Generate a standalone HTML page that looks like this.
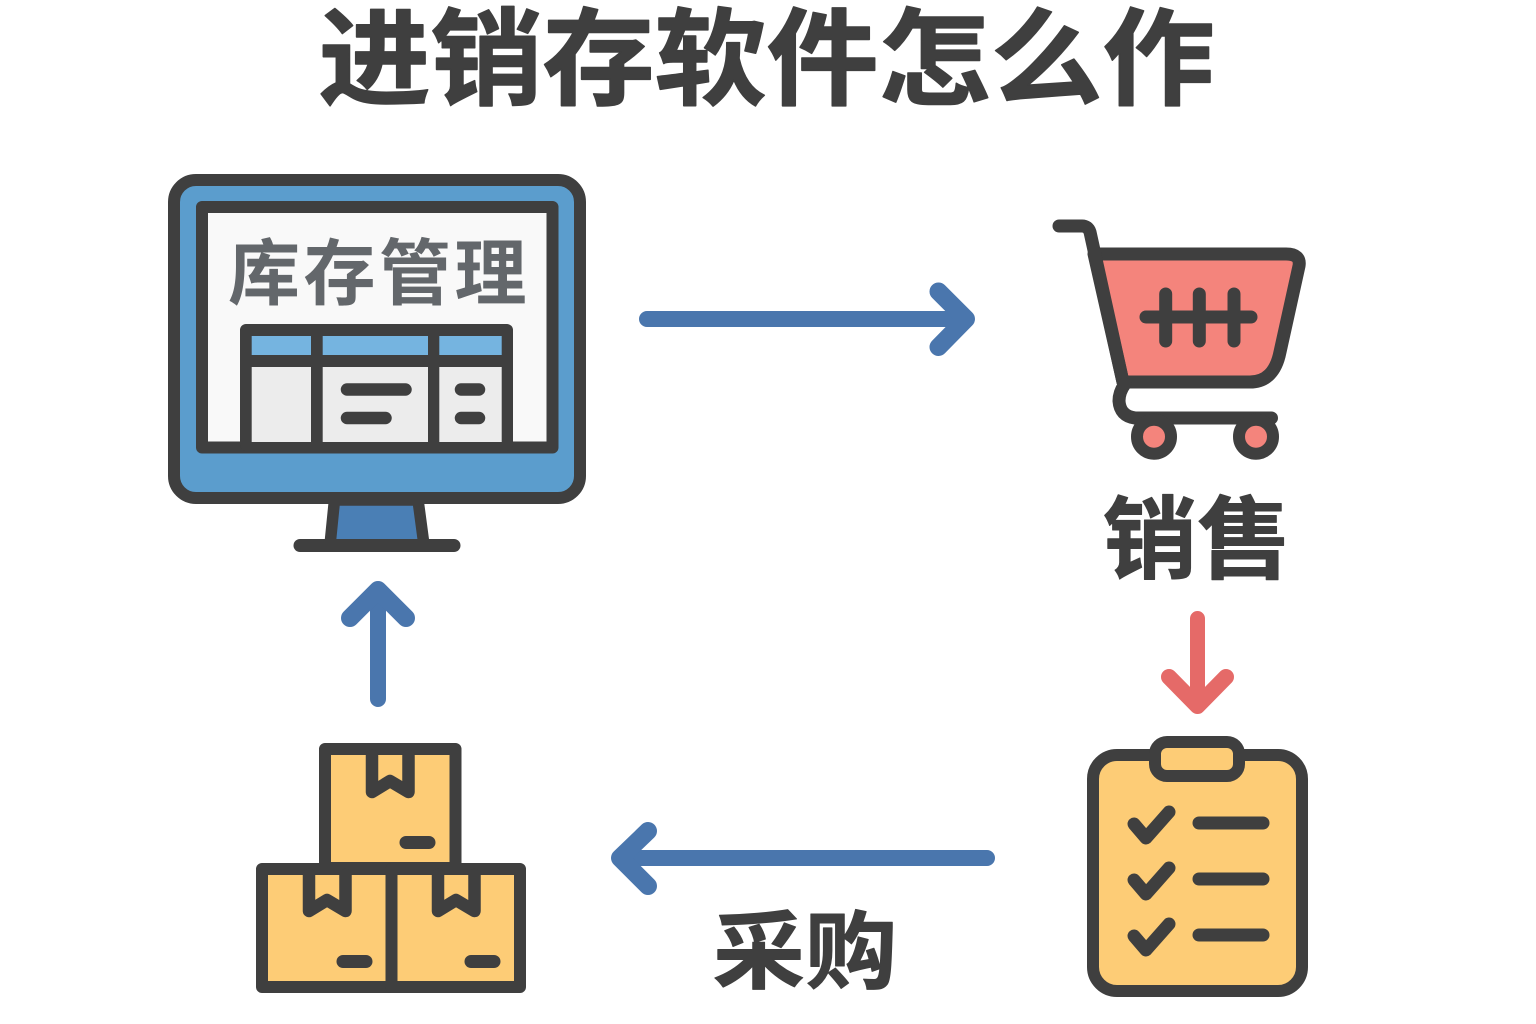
<!DOCTYPE html>
<html lang="zh"><head><meta charset="utf-8"><title>进销存软件怎么作</title>
<style>html,body{margin:0;padding:0;background:#fff}svg{display:block}text{font-family:"Liberation Sans","Noto Sans CJK SC",sans-serif;font-weight:700}</style></head>
<body>
<svg width="1536" height="1024" viewBox="0 0 1536 1024" xmlns="http://www.w3.org/2000/svg" stroke-linecap="round" stroke-linejoin="round">
<rect width="1536" height="1024" fill="#fff"/>
<text transform="translate(766.5 96.7) scale(1 .945)" font-size="112" text-anchor="middle" fill="#3f3f3f" stroke="#3f3f3f" stroke-width="1.5">进销存软件怎么作</text>

<!-- monitor -->
<path d="M334.500 500H418L424 545H330Z" fill="#4a7fb5" stroke="#3f3f3f" stroke-width="11.500"/>
<rect x="174" y="180" width="406" height="318" rx="22" fill="#5b9dcd" stroke="#3f3f3f" stroke-width="12"/>
<rect x="202" y="207" width="350.500" height="240.500" fill="#f9f9f9" stroke="#3f3f3f" stroke-width="12" stroke-linejoin="round"/>
<rect x="246" y="330" width="261" height="115" fill="#3f3f3f" stroke="#3f3f3f" stroke-width="12"/>
<rect x="251.700" y="336" width="59.300" height="19" fill="#75b4e0"/>
<rect x="322.700" y="336" width="105.300" height="19" fill="#75b4e0"/>
<rect x="439.300" y="336" width="62.400" height="19" fill="#75b4e0"/>
<rect x="251.700" y="367" width="59.300" height="75" fill="#ececec"/>
<rect x="322.700" y="367" width="105.300" height="75" fill="#ececec"/>
<rect x="439.300" y="367" width="62.400" height="75" fill="#ececec"/>
<g stroke="#3f3f3f" stroke-width="12.500"><path d="M347 389.500H405.500M347 418H385.500M461 389.500H479M461 418H479"/></g>
<path d="M300 545.500H454" stroke="#3f3f3f" stroke-width="13"/>
<text x="379" y="299" font-size="72" letter-spacing="3.500" text-anchor="middle" fill="#63676b">库存管理</text>

<!-- arrows -->
<g fill="none" stroke="#4a76ad">
<path stroke-width="16" d="M647 319H964M378 699V594M987 858H624"/>
<path stroke-width="18" d="M938.500 291.500L966 319L938.500 347M350 618L378 590L406 618M648 831L620 858L648 886"/>
</g>
<path d="M1197.500 618.500V704" fill="none" stroke="#e56a68" stroke-width="15"/>
<path d="M1169 677L1197.500 706L1226 677" fill="none" stroke="#e56a68" stroke-width="16"/>

<!-- cart -->
<path d="M1094 254H1286Q1301 254 1299 266L1280 352Q1274 382 1250 382H1123Z" fill="#f4847c" stroke="#3f3f3f" stroke-width="13"/>
<path d="M1059 226H1082Q1088 226 1090 232L1123 382" fill="none" stroke="#3f3f3f" stroke-width="13"/>
<path d="M1125 384Q1119 392 1119 401Q1120 416 1135 418H1271.500" fill="none" stroke="#3f3f3f" stroke-width="13"/>
<circle cx="1154" cy="436.700" r="17" fill="#f4847c" stroke="#3f3f3f" stroke-width="12"/>
<circle cx="1256" cy="436.700" r="17" fill="#f4847c" stroke="#3f3f3f" stroke-width="12"/>
<path d="M1146 317H1251M1165.700 294V341M1199.300 294V341M1234 294V341" fill="none" stroke="#3f3f3f" stroke-width="13"/>

<text transform="translate(1197 571) scale(1.047 1)" font-size="90" text-anchor="middle" fill="#3f3f3f" stroke="#3f3f3f" stroke-width="1">销售</text>
<text transform="translate(805 982) scale(1.047 .97)" font-size="88" text-anchor="middle" fill="#3f3f3f" stroke="#3f3f3f" stroke-width="1">采购</text>

<!-- boxes -->
<g fill="#fdcc76" stroke="#3f3f3f" stroke-width="12">
<rect x="325" y="749" width="130.500" height="119"/>
<rect x="262" y="869" width="129.500" height="118"/>
<rect x="391.500" y="869" width="128.500" height="118"/>
</g>
<g fill="none" stroke="#3f3f3f" stroke-width="12.500">
<path d="M372 756V792L390 781L408.500 792V756"/>
<path d="M309 875V911L327 900L345.500 911V875"/>
<path d="M438 875V911L456 900L474.500 911V875"/>
<path stroke-width="13" d="M406 842.500H429M343 961.500H366M471 961.500H494"/>
</g>

<!-- clipboard -->
<rect x="1093" y="755" width="209" height="236" rx="24" fill="#fdcc76" stroke="#3f3f3f" stroke-width="12"/>
<rect x="1155" y="742" width="84" height="34" rx="12" fill="#fdcc76" stroke="#3f3f3f" stroke-width="12"/>
<g fill="none" stroke="#3f3f3f" stroke-width="13">
<path d="M1134 824L1146 838L1169 812M1134 880L1146 894L1169 868M1134 936L1146 950L1169 924"/>
<path d="M1199 823H1263M1199 879H1263M1199 935H1263"/>
</g>
</svg>
</body></html>
